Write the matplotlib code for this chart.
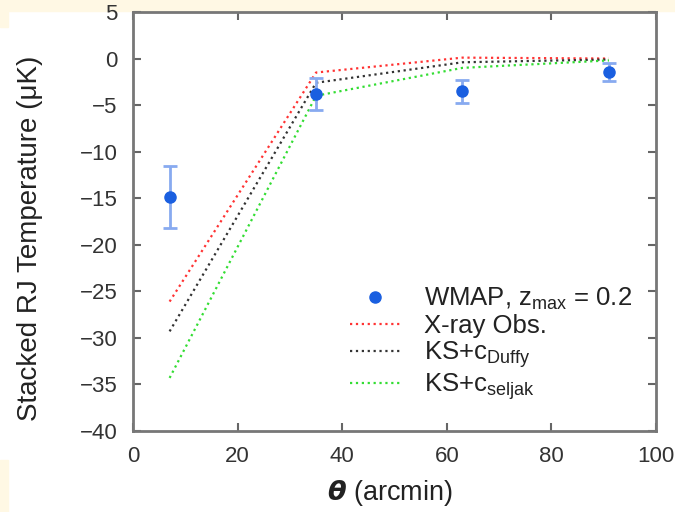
import matplotlib
matplotlib.use('Agg')
import matplotlib.pyplot as plt
from matplotlib.patches import Rectangle
from matplotlib.lines import Line2D

plt.rcParams['font.family'] = ['Liberation Sans', 'DejaVu Sans']
plt.rcParams['mathtext.fontset'] = 'custom'
plt.rcParams['mathtext.rm'] = 'Liberation Sans'
plt.rcParams['mathtext.it'] = 'Liberation Sans:italic'
plt.rcParams['mathtext.bf'] = 'DejaVu Sans:bold:italic'

# WMAP stacked data
theta = [7, 35, 63, 91]
wmap = [-14.9, -3.8, -3.5, -1.4]
err_lo = [3.3, 1.7, 1.3, 1.0]
err_hi = [3.4, 1.7, 1.2, 0.9]

# model curves
model_theta = [7, 35, 63, 91]
xray = [-26.1, -1.5, 0.1, 0.0]
duffy = [-29.3, -2.6, -0.4, -0.1]
seljak = [-34.3, -4.0, -1.0, -0.2]

fig = plt.figure(figsize=(6.75, 5.12), dpi=100)
cream = '#fff8e4'
fig.patches.append(Rectangle((0, 1 - 11/512), 1, 11/512, transform=fig.transFigure, color=cream, zorder=-1))
fig.patches.append(Rectangle((0, 1 - 27/512), 8/675, 27/512, transform=fig.transFigure, color=cream, zorder=-1))
fig.patches.append(Rectangle((0, 0), 8/675, 52/512, transform=fig.transFigure, color=cream, zorder=-1))

ax = fig.add_axes([133/675, 1 - 431/512, 523/675, 419/512])

l1, = ax.plot(model_theta, xray, ls=':', color='#ff3333', lw=1.6)
l2, = ax.plot(model_theta, duffy, ls=':', color='#333333', lw=1.6)
l3, = ax.plot(model_theta, seljak, ls=':', color='#33dd33', lw=1.6)
ax.errorbar(theta, wmap, yerr=[err_lo, err_hi], fmt='o', color='#1a5fe0', ms=8,
            ecolor='#88aaf0', elinewidth=2, capsize=5, capthick=2)
dot = Line2D([], [], ls='none', marker='o', color='#1a5fe0', ms=8)

ax.set_xlim(0, 100)
ax.set_ylim(-40, 5)
ax.set_xticks(range(0, 101, 20))
ax.set_yticks(range(-40, 6, 5))
ax.tick_params(direction='in', length=6, width=1.5, colors='#666666', labelcolor='#333333',
               labelsize=16, top=True, right=True, pad=11)
for s in ax.spines.values():
    s.set_color('#777777')
    s.set_linewidth(2)

ax.set_ylabel('Stacked RJ Temperature (μK)', fontsize=20, color='#222222')
ax.yaxis.set_label_coords(-0.172, 0.461)
ax.set_xlabel('$\\mathbf{\\theta}$ (arcmin)', fontsize=19.5, color='#222222')
ax.xaxis.set_label_coords(0.491, -0.112)

ax.legend([dot, l1, l2, l3],
          ['WMAP, z$_{\\rm max}$ = 0.2', 'X-ray Obs.', 'KS+c$_{\\rm Duffy}$', 'KS+c$_{\\rm seljak}$'],
          loc='lower right', bbox_to_anchor=(0.989, 0.027), frameon=False,
          fontsize=18.5, handlelength=2.0, labelspacing=0.05, handletextpad=0.9,
          borderaxespad=0.3, labelcolor='#222222')

fig.savefig('out.png', dpi=100)
